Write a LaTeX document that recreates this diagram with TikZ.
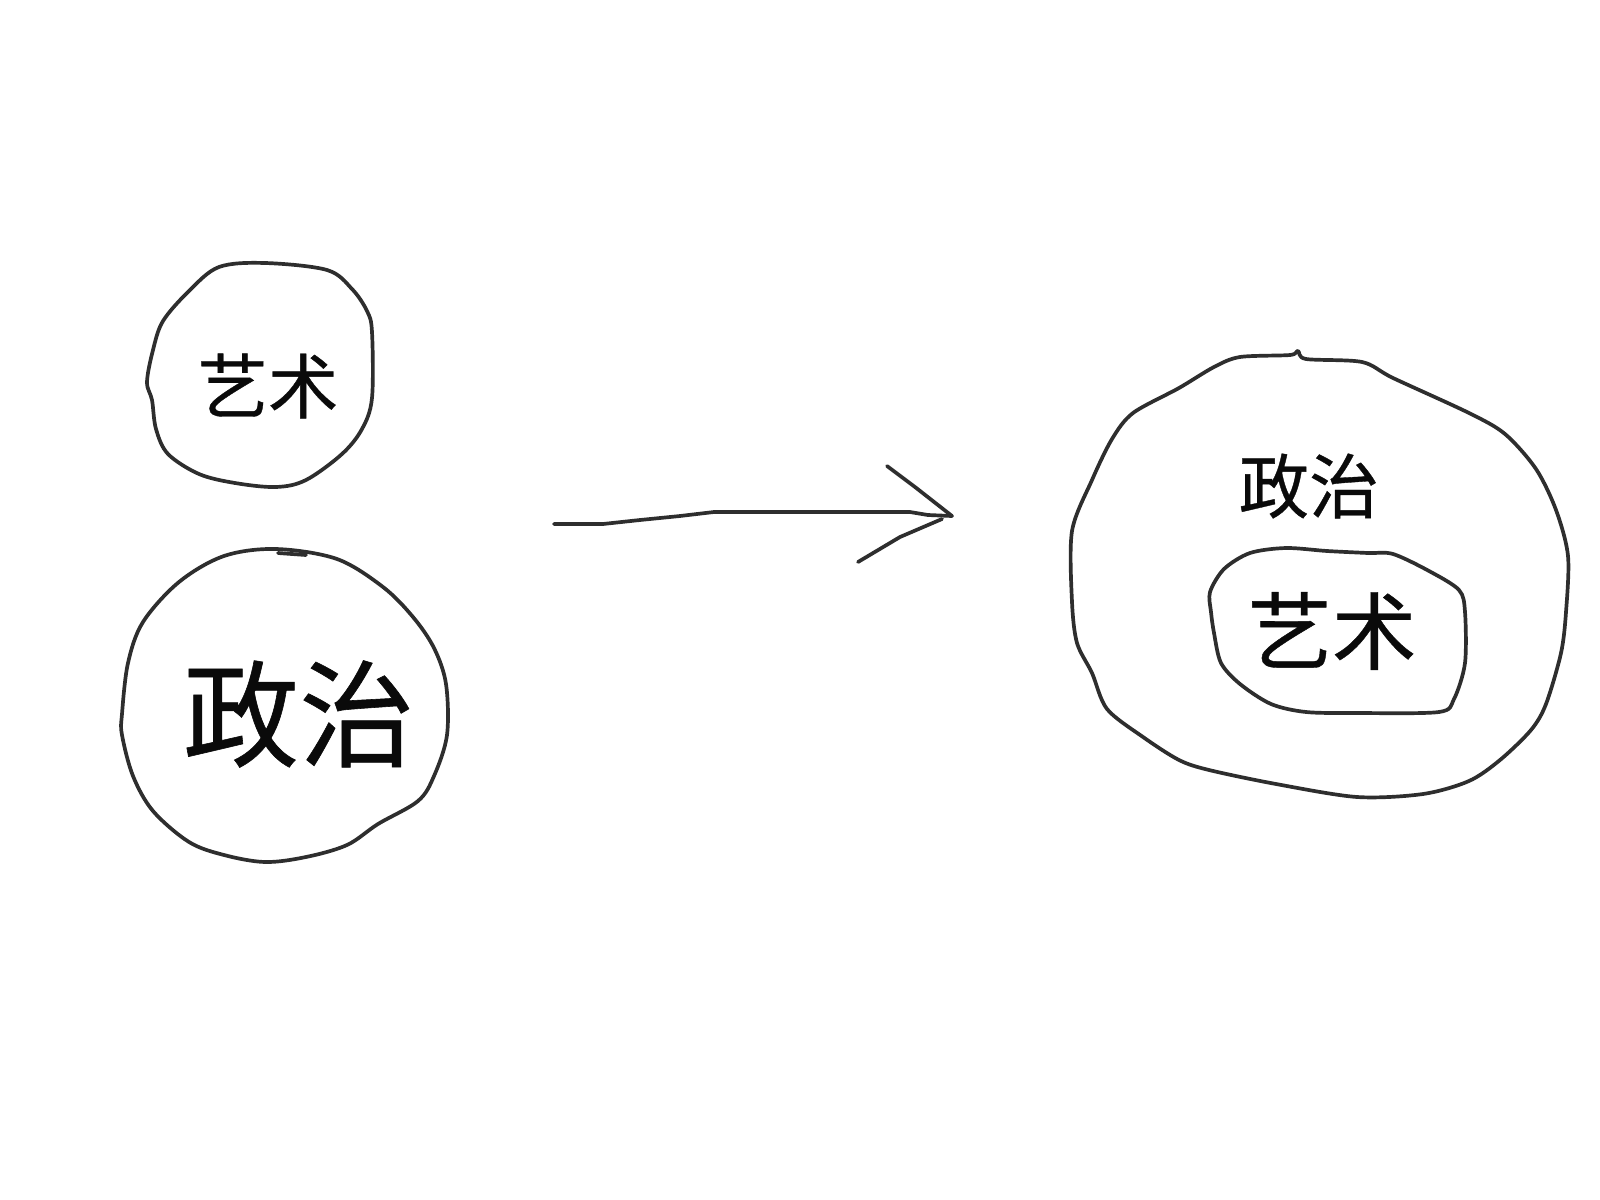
\documentclass[tikz,border=0pt]{standalone}
\usepackage{fontspec}
\newfontfamily\cjk[FakeBold=0.5]{Noto Sans CJK SC}
\definecolor{ink}{HTML}{2E2E2E}
\definecolor{txt}{HTML}{0A0A0A}
\begin{document}
\begin{tikzpicture}[x=0.01cm, y=-0.01cm,
  sketch/.style={draw=ink, line width=1.05pt, line join=round, line cap=round},
  label/.style={inner sep=0pt, text=txt, font=\cjk\fontsize{#1}{#1}\selectfont}]
\useasboundingbox[fill=white] (0,0) rectangle (1600,1200);
% small circle (art)
\draw[sketch] plot[smooth cycle, tension=0.55] coordinates {
 (147,382) (153,350) (163,321) (189,291) (219,267) (265,263) (327,270) (352,289)
 (367,311) (372,332) (372,398) (362,429) (342,454) (306,480) (276,487) (235,483)
 (199,474) (168,454) (156,429) (152,400)};
\node[label=20pt] (art1) at (268,386) {艺术};
% big circle (politics)
\draw[sketch] plot[smooth cycle, tension=0.55] coordinates {
 (122,714) (128,663) (143,622) (179,582) (224,556) (276,549) (337,559) (383,587)
 (413,617) (434,648) (446,684) (447,735) (434,776) (418,801) (378,824) (347,845)
 (306,857) (265,862) (224,855) (189,842) (153,811) (133,776) (122,735)};
\draw[sketch] (278,553) -- (306,555);
\node[label=33pt] (pol1) at (299,714) {政治};
% arrow
\coordinate (a0) at (554,524);
\coordinate (tip) at (952,516);
\coordinate (h1) at (887,466);
\coordinate (h2) at (858,562);
\draw[sketch] (a0) -- (603,524) -- (640,520) -- (680,516) -- (714,512) -- (910,512) -- (928,515) -- (tip);
\draw[sketch] (h1) -- (915,487) -- (tip);
\draw[sketch] (h2) -- (900,537) -- (942,519);
% right big circle
\draw[sketch] plot[smooth cycle, tension=0.5] coordinates {
 (1240,357) (1290,355) (1298,351) (1306,359) (1362,362) (1393,378) (1469,413) (1505,434) (1536,469)
 (1556,510) (1568,556) (1566,612) (1561,653) (1546,704) (1531,730) (1500,760)
 (1469,781) (1423,794) (1357,797) (1276,784) (1209,770) (1179,760) (1143,737)
 (1107,709) (1092,673) (1077,643) (1072,602) (1072,531) (1092,480) (1112,439)
 (1133,413) (1179,388) (1214,367)};
\node[label=20pt] (pol2) at (1309,486) {政治};
% inner shape
\draw[sketch] plot[smooth cycle, tension=0.5] coordinates {
 (1210,592) (1224,569) (1250,553) (1286,548) (1327,551) (1368,553) (1393,554)
 (1429,571) (1459,590) (1465,612) (1465,663) (1454,699) (1439,712) (1357,713)
 (1306,712) (1271,704) (1240,684) (1221,663) (1214,633) (1211,612)};
\node[label=24pt] (art2) at (1332,631) {艺术};
\end{tikzpicture}
\end{document}
